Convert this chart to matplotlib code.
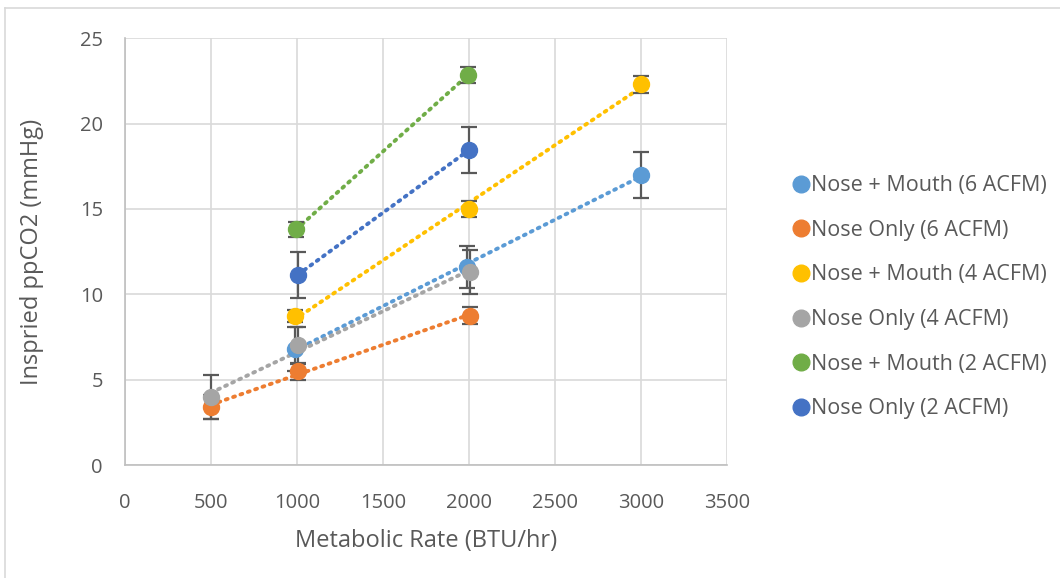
import numpy as np
import matplotlib.pyplot as plt
from matplotlib.lines import Line2D

plt.rcParams['font.family'] = ['Open Sans', 'DejaVu Sans']

# data
series_names = ['Nose + Mouth (6 ACFM)', 'Nose Only (6 ACFM)', 'Nose + Mouth (4 ACFM)',
                'Nose Only (4 ACFM)', 'Nose + Mouth (2 ACFM)', 'Nose Only (2 ACFM)']
colors = ['#5B9BD5', '#ED7D31', '#FFC000', '#A5A5A5', '#70AD47', '#4472C4']

nm6_x = [985, 1990, 3000]
nm6_y = [6.8, 11.6, 17.0]
nm6_err = [1.3, 1.25, 1.35]

no6_x = [500, 1005, 2005]
no6_y = [3.4, 5.5, 8.75]
no6_err = [0.7, 0.5, 0.5]

nm4_x = [985, 2000, 3000]
nm4_y = [8.7, 15.0, 22.3]
nm4_err = [0.35, 0.45, 0.5]

no4_x = [500, 1005, 2005]
no4_y = [4.0, 7.0, 11.3]
no4_err = [1.3, 1.1, 1.3]

nm2_x = [995, 1995]
nm2_y = [13.8, 22.85]
nm2_err = [0.45, 0.45]

no2_x = [1005, 2000]
no2_y = [11.15, 18.45]
no2_err = [1.35, 1.35]

all_x = [nm6_x, no6_x, nm4_x, no4_x, nm2_x, no2_x]
all_y = [nm6_y, no6_y, nm4_y, no4_y, nm2_y, no2_y]
all_err = [nm6_err, no6_err, nm4_err, no4_err, nm2_err, no2_err]

fig = plt.figure(figsize=(10.6, 5.78), dpi=100)
ax = fig.add_axes([0.118, 0.1955, 0.568, 0.7385])

# chart border (only left/top visible in the crop)
fig.add_artist(Line2D([0.005, 0.005], [0.0, 0.986], color='#D9D9D9', lw=1.2))
fig.add_artist(Line2D([0.005, 1.0], [0.986, 0.986], color='#D9D9D9', lw=1.2))

for xs, ys, es, c in zip(all_x, all_y, all_err, colors):
    xs = np.array(xs, dtype=float)
    ys = np.array(ys)
    # linear trend line, dotted
    m, b = np.polyfit(xs, ys, 1)
    tx = np.array([xs.min(), xs.max()])
    ax.plot(tx, m * tx + b, linestyle=(0, (0.5, 1.5)), color=c, lw=2.8,
            dash_capstyle='round', zorder=2)
    ax.errorbar(xs, ys, yerr=es, fmt='none', ecolor='#595959', elinewidth=1.6,
                capsize=6, capthick=1.6, zorder=3)
    ax.plot(xs, ys, 'o', color=c, markersize=11.5, zorder=4)

ax.set_xlim(0, 3500)
ax.set_ylim(0, 25)
ax.set_xticks(np.arange(0, 3501, 500))
ax.set_yticks(np.arange(0, 26, 5))
ax.grid(True, color='#D9D9D9', lw=1.2)
ax.set_axisbelow(True)
for s in ['top', 'right']:
    ax.spines[s].set_visible(False)
for s in ['left', 'bottom']:
    ax.spines[s].set_color('#BFBFBF')
    ax.spines[s].set_linewidth(1.2)
ax.tick_params(length=0, labelsize=14.5, colors='#595959')
ax.tick_params(axis='x', pad=20)
ax.tick_params(axis='y', pad=16)
ax.set_xlabel('Metabolic Rate (BTU/hr)', fontsize=17, color='#595959', labelpad=12)
ax.set_ylabel('Inspried ppCO2 (mmHg)', fontsize=17, color='#595959', labelpad=26)

handles = [Line2D([], [], marker='o', linestyle='none', color=c, markersize=12)
           for c in colors]
fig.legend(handles, series_names, loc='upper left', bbox_to_anchor=(0.737, 0.712),
           frameon=False, fontsize=15.5, labelcolor='#595959', handletextpad=0.0,
           labelspacing=1.1, borderaxespad=0, handlelength=1.0)

plt.savefig('out.png', dpi=100)
